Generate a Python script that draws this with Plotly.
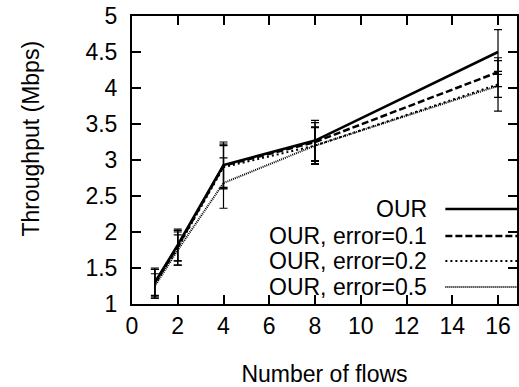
import plotly.graph_objects as go

flows = [1, 2, 4, 8, 16]
series_names = ["OUR", "OUR, error=0.1", "OUR, error=0.2", "OUR, error=0.5"]
our = [1.30, 1.82, 2.93, 3.27, 4.50]
our_err = [0.20, 0.22, 0.32, 0.28, 0.31]
e01 = [1.30, 1.80, 2.92, 3.25, 4.22]
e01_err = [0.18, 0.20, 0.30, 0.27, 0.20]
e02 = [1.28, 1.78, 2.90, 3.20, 4.05]
e02_err = [0.20, 0.24, 0.30, 0.26, 0.18]
e05 = [1.25, 1.75, 2.68, 3.20, 4.03]
e05_err = [0.17, 0.21, 0.35, 0.25, 0.35]
x_ticks = [0, 2, 4, 6, 8, 10, 12, 14, 16]
y_ticks = [1, 1.5, 2, 2.5, 3, 3.5, 4, 4.5, 5]
y_tick_text = ["1", "1.5", "2", "2.5", "3", "3.5", "4", "4.5", "5"]

values = [our, e01, e02, e05]
errors = [our_err, e01_err, e02_err, e05_err]
dashes = ["solid", "7px,3px", "2px,3px", "1px,1px"]
widths = [2.5, 2.5, 2, 2]

FONT = "Liberation Sans, Arial, Helvetica, sans-serif"
PL, PR, PT, PB = 132, 519, 16, 304
PW, PH = PR - PL, PB - PT

fig = go.Figure()
for name, v, e, d, w in zip(series_names, values, errors, dashes, widths):
    fig.add_trace(go.Scatter(
        x=flows, y=v, mode="lines", name=name,
        line=dict(color="black", width=w, dash=d),
        error_y=dict(type="data", array=e, visible=True, color="black",
                     thickness=1.2, width=4),
        showlegend=False,
    ))

# legend drawn manually (text left of line samples), gnuplot style
leg_y = [209, 236, 261, 287]
for name, d, w, yy in zip(series_names, dashes, widths, leg_y):
    yp = (PB - yy) / PH
    fig.add_annotation(xref="paper", yref="paper", x=(431 - PL) / PW, y=yp,
                       text=name, showarrow=False, xanchor="right", yanchor="middle",
                       font=dict(family=FONT, size=23, color="black"))
    fig.add_shape(type="line", xref="paper", yref="paper",
                  x0=(447 - PL) / PW, x1=1.0, y0=yp, y1=yp,
                  line=dict(color="black", width=w, dash=d))

fig.add_annotation(xref="paper", yref="paper", x=-(PL - 30) / PW,
                   y=(PB - 139) / PH, text="Throughput (Mbps)", textangle=-90,
                   showarrow=False, xanchor="center", yanchor="middle",
                   font=dict(family=FONT, size=23, color="black"))

fig.update_layout(
    width=519, height=387,
    margin=dict(l=PL, r=0, t=PT, b=387 - PB),
    paper_bgcolor="white", plot_bgcolor="white",
    font=dict(family=FONT, size=23, color="black"),
    xaxis=dict(range=[0, 16.83], tickmode="array", tickvals=x_ticks,
               ticks="inside", ticklen=9, tickwidth=1.5, tickcolor="black",
               showline=True, linecolor="black", linewidth=2, mirror="ticks",
               showgrid=False, zeroline=False,
               title=dict(text="Number of flows", font=dict(size=23), standoff=28)),
    yaxis=dict(range=[1, 5], tickmode="array", tickvals=y_ticks, ticktext=y_tick_text,
               ticks="inside", ticklen=9, tickwidth=1.5, tickcolor="black",
               showline=True, linecolor="black", linewidth=2, mirror="ticks",
               showgrid=False, zeroline=False, ticklabelstandoff=8),
)
fig.write_html("out.html")
